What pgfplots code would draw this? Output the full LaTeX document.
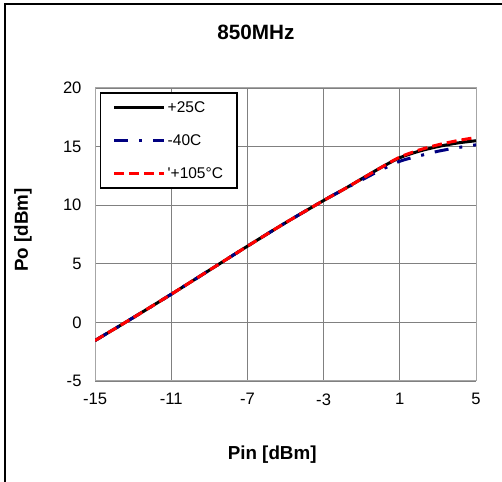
\documentclass[border=0pt]{standalone}
\usepackage{fontspec}
\setmainfont{Liberation Sans}
\usepackage{pgfplots}
\pgfplotsset{compat=1.18}
\definecolor{navyb}{RGB}{0,0,128}
\definecolor{gridg}{RGB}{128,128,128}

\begin{document}
\begin{tikzpicture}[x=1bp,y=1bp]
\useasboundingbox (0,0) rectangle (502,482);
\begin{scope}
  \clip (0,0) rectangle (502,482);
  \draw[line width=2.5bp] (5,-10) -- (5,478) -- (520,478);
\end{scope}
\node[font=\bfseries\fontsize{20.7bp}{24bp}\selectfont] at (256,450) {850MHz};
\begin{axis}[
  at={(95bp,101bp)}, anchor=south west,
  scale only axis, width=381bp, height=293bp,
  xmin=-15, xmax=5, ymin=-5, ymax=20,
  xtick={-15,-11,-7,-3,1,5}, ytick={-5,0,5,10,15,20},
  grid=major, major grid style={gridg, line width=0.8bp},
  axis line style={gridg!70, line width=1bp},
  major tick length=0pt,
  tick label style={font=\fontsize{16.6bp}{19bp}\selectfont},
  /pgf/number format/assume math mode=true,
  xticklabel style={yshift=-9bp},
  yticklabel style={xshift=-10bp},
  xlabel={\textbf{Pin [dBm]}}, ylabel={\textbf{Po [dBm]}},
  label style={font=\bfseries\fontsize{18.8bp}{22bp}\selectfont},
  xlabel style={at={(axis description cs:0.465,-0.2526)}, anchor=center},
  ylabel style={at={(axis description cs:-0.189,0.515)}, anchor=center, rotate=0},
  legend style={at={(axis description cs:0.0131,0.986)}, anchor=north west,
    draw=black, line width=1.5bp, fill=white,
    font=\fontsize{15.5bp}{18bp}\selectfont,
    inner xsep=12bp, inner ysep=7bp, row sep=18bp, column sep=0bp,
    nodes={inner sep=2bp, text height=11bp, text depth=0bp},
    cells={anchor=west}},
  legend image code/.code={\draw[#1] (0bp,0bp) -- (50bp,0bp);},
]
\addplot[black, line width=3bp, smooth, tension=0.5] coordinates {
  (-15,-1.55) (-13,0.4) (-11,2.4) (-9,4.45) (-7,6.5) (-5,8.5) (-3,10.4)
  (-2,11.3) (-1,12.25) (0,13.2) (1,14.05) (2,14.6) (3,15.0) (4,15.3) (5,15.5)
};
\addlegendentry{+25C}
\addplot[navyb, line width=3bp, smooth, tension=0.5, dash pattern=on 14bp off 11bp on 3bp off 11bp] coordinates {
  (-15,-1.55) (-13,0.4) (-11,2.4) (-9,4.45) (-7,6.5) (-5,8.5) (-3,10.4)
  (-2,11.3) (-1,12.15) (0,13.0) (1,13.75) (2,14.2) (3,14.6) (4,14.9) (5,15.15)
};
\addlegendentry{-40C}
\addplot[red, line width=3bp, smooth, tension=0.5, dash pattern=on 10bp off 5bp] coordinates {
  (-15,-1.55) (-13,0.4) (-11,2.4) (-9,4.45) (-7,6.5) (-5,8.5) (-3,10.4)
  (-2,11.3) (-1,12.25) (0,13.2) (1,14.1) (2,14.7) (3,15.15) (4,15.5) (5,15.78)
};
\addlegendentry{\textquotesingle+105°C}
\end{axis}
\end{tikzpicture}
\end{document}
